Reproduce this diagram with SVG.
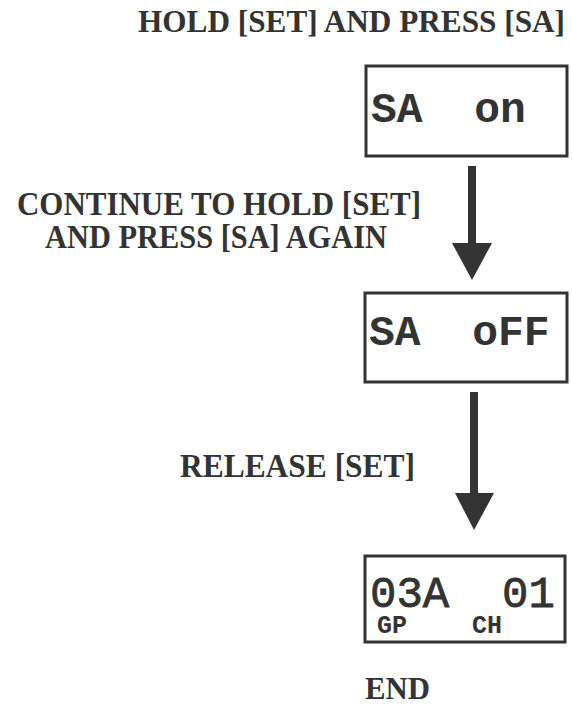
<svg xmlns="http://www.w3.org/2000/svg" width="572" height="706" viewBox="0 0 572 706">
<style>
.lbl{font-family:"Liberation Serif","Times New Roman",serif;font-weight:bold;font-size:33px;fill:#333}
.box{fill:#fff;stroke:#333;stroke-width:3}
.lcd{font-family:"Liberation Mono","Courier New",monospace;font-weight:bold;font-size:43px;fill:#333;white-space:pre}
.lcdn{font-family:"Liberation Mono","Courier New",monospace;font-weight:normal;font-size:44px;fill:#333;stroke:#333;stroke-width:0.8;white-space:pre}
.sm{font-family:"Liberation Mono","Courier New",monospace;font-weight:bold;font-size:25px;fill:#333}
.shaft{stroke:#333;stroke-width:8}
.head{fill:#333}
</style>
<rect width="572" height="706" fill="#fff"/>
<g id="labels">
<text class="lbl" x="138" y="32" textLength="427" lengthAdjust="spacingAndGlyphs" style="font-size:31px">HOLD [SET] AND PRESS [SA]</text>
<text class="lbl" x="17" y="215" textLength="404" lengthAdjust="spacingAndGlyphs">CONTINUE TO HOLD [SET]</text>
<text class="lbl" x="45" y="248" textLength="342" lengthAdjust="spacingAndGlyphs">AND PRESS [SA] AGAIN</text>
<text class="lbl" x="180" y="477" textLength="235" lengthAdjust="spacingAndGlyphs">RELEASE [SET]</text>
<text class="lbl" x="365" y="699" textLength="65" lengthAdjust="spacingAndGlyphs" style="font-size:31px">END</text>
</g>
<g id="node1">
<rect class="box" x="366" y="66" width="201" height="90"/>
<text class="lcd" x="371" y="122" xml:space="preserve">SA  on</text>
</g>
<g id="node2">
<rect class="box" x="365" y="293" width="202" height="89"/>
<text class="lcd" x="369" y="345" xml:space="preserve">SA  oFF</text>
</g>
<g id="node3">
<rect class="box" x="365" y="556" width="200" height="86"/>
<text class="lcdn" x="370" y="607" xml:space="preserve">03A  01</text>
<text class="sm" x="377" y="633">GP</text>
<text class="sm" x="472" y="633">CH</text>
</g>
<g id="connectors">
<line class="shaft" x1="472" y1="166" x2="472" y2="246"/>
<polygon class="head" points="452,243 492,243 472,280"/>
<line class="shaft" x1="474" y1="392" x2="474" y2="496"/>
<polygon class="head" points="455,493 494,493 474,530"/>
</g>
</svg>
